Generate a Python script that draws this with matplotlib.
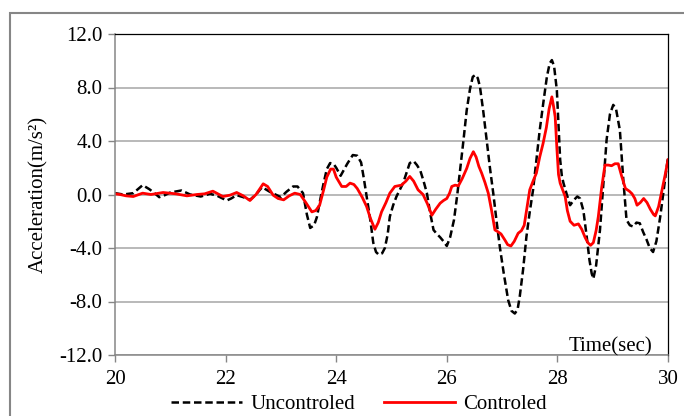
import matplotlib
matplotlib.use('Agg')
import matplotlib.pyplot as plt
from matplotlib.patches import Rectangle

plt.rcParams['font.family'] = ['Liberation Serif', 'DejaVu Serif']
plt.rcParams['axes.unicode_minus'] = False

# uncontrolled response
t_unc = [20.0, 20.15, 20.33, 20.5, 20.62, 20.7, 20.8, 20.9, 21.0, 21.2, 21.36, 21.55,
         21.72, 21.85, 22.02, 22.1, 22.2, 22.32, 22.44, 22.55, 22.66, 22.8, 22.9, 23.0,
         23.1, 23.22, 23.3, 23.4, 23.47, 23.53, 23.6, 23.65, 23.72, 23.77, 23.83, 23.89,
         23.95, 24.0, 24.08, 24.2, 24.3, 24.38, 24.45, 24.5, 24.55, 24.62, 24.67, 24.72,
         24.77, 24.83, 24.88, 24.93, 24.97, 25.03, 25.09, 25.15, 25.21, 25.27, 25.33, 25.4,
         25.46, 25.52, 25.58, 25.64, 25.7, 25.76, 25.82, 25.88, 25.94, 26.0, 26.06, 26.13,
         26.19, 26.24, 26.3, 26.36, 26.42, 26.47, 26.52, 26.56, 26.6, 26.66, 26.72, 26.78,
         26.84, 26.9, 26.96, 27.03, 27.11, 27.17, 27.23, 27.28, 27.32, 27.38, 27.44, 27.5,
         27.56, 27.62, 27.68, 27.75, 27.81, 27.86, 27.9, 27.94, 27.99, 28.02, 28.05, 28.08,
         28.11, 28.17, 28.23, 28.3, 28.36, 28.41, 28.47, 28.53, 28.58, 28.62, 28.65, 28.7,
         28.77, 28.83, 28.89, 28.95, 29.01, 29.06, 29.13, 29.19, 29.25, 29.31, 29.37, 29.43,
         29.49, 29.55, 29.61, 29.67, 29.73, 29.79, 29.86, 29.93, 30.0]
a_unc = [0.1, 0.0, 0.1, 0.7, 0.4, 0.15, -0.2, -0.05, 0.15, 0.3, 0.0, -0.15,
         0.05, -0.1, -0.45, -0.3, -0.05, -0.2, -0.4, 0.0, 0.55, 0.2, 0.0, -0.2,
         0.2, 0.6, 0.6, 0.1, -1.5, -2.5, -2.3, -1.7, -0.2, 0.8, 1.9, 2.35,
         2.3, 2.0, 1.4, 2.3, 2.95, 2.9, 2.4, 1.2, -0.15, -2.0, -3.6, -4.3,
         -4.5, -4.4, -4.0, -3.0, -1.65, -0.8, -0.15, 0.35, 0.85, 1.6, 2.35, 2.5,
         2.2, 1.8, 1.0, 0.1, -1.4, -2.65, -2.95, -3.2, -3.5, -3.85, -3.2, -1.9,
         0.0, 1.8, 4.0, 6.3, 7.9, 8.8, 8.95, 8.7, 8.05, 6.2, 4.1, 2.0,
         0.1, -2.0, -3.95, -5.9, -7.9, -8.7, -8.9, -8.6, -7.6, -5.6, -3.15, -1.3,
         0.35, 2.6, 4.8, 7.0, 8.8, 9.8, 10.05, 9.6, 7.8, 5.2, 2.6, 1.4,
         0.85, 0.0, -0.8, -0.4, -0.15, -0.3, -1.2, -3.15, -4.9, -5.9, -6.3, -5.3,
         -2.65, 0.7, 4.1, 6.0, 6.7, 6.4, 4.8, 1.2, -1.9, -2.3, -2.4, -2.1,
         -2.15, -2.8, -3.35, -4.0, -4.3, -3.5, -1.65, 0.6, 2.8]

# controlled response
t_con = [20.0, 20.09, 20.2, 20.33, 20.5, 20.65, 20.87, 21.1, 21.3, 21.48, 21.62, 21.77,
         21.95, 22.08, 22.2, 22.32, 22.44, 22.55, 22.68, 22.76, 22.86, 22.95, 23.05, 23.15,
         23.25, 23.35, 23.45, 23.56, 23.63, 23.7, 23.77, 23.83, 23.9, 23.95, 24.0, 24.1,
         24.18, 24.25, 24.32, 24.38, 24.47, 24.55, 24.62, 24.7, 24.76, 24.82, 24.9, 24.97,
         25.06, 25.12, 25.18, 25.26, 25.33, 25.4, 25.48, 25.57, 25.65, 25.73, 25.8, 25.88,
         25.94, 26.0, 26.05, 26.09, 26.15, 26.21, 26.28, 26.36, 26.42, 26.48, 26.53, 26.58,
         26.63, 26.69, 26.75, 26.81, 26.87, 26.93, 26.98, 27.05, 27.1, 27.16, 27.22, 27.29,
         27.35, 27.4, 27.45, 27.5, 27.56, 27.62, 27.68, 27.74, 27.8, 27.85, 27.9, 27.93,
         27.96, 27.99, 28.02, 28.05, 28.1, 28.14, 28.18, 28.23, 28.3, 28.38, 28.44, 28.5,
         28.55, 28.6, 28.65, 28.7, 28.74, 28.8, 28.86, 28.92, 28.98, 29.04, 29.1, 29.16,
         29.23, 29.3, 29.35, 29.4, 29.44, 29.5, 29.56, 29.62, 29.68, 29.74, 29.77, 29.83,
         29.89, 29.95, 30.0]
a_con = [0.05, 0.0, -0.1, -0.15, 0.1, 0.0, 0.15, 0.05, -0.1, 0.0, 0.05, 0.25,
         -0.15, -0.05, 0.15, -0.1, -0.45, 0.0, 0.8, 0.6, -0.05, -0.3, -0.4, -0.1,
         0.1, 0.0, -0.6, -1.3, -1.2, -0.8, 0.3, 1.3, 1.9, 1.9, 1.3, 0.6,
         0.6, 0.85, 0.75, 0.45, -0.2, -0.9, -1.8, -2.6, -2.1, -1.3, -0.6, 0.1,
         0.6, 0.65, 0.7, 1.0, 1.35, 1.0, 0.35, 0.0, -0.7, -1.55, -1.1, -0.65,
         -0.45, -0.3, 0.1, 0.6, 0.7, 0.65, 1.2, 1.95, 2.7, 3.2, 2.8, 2.1,
         1.6, 0.9, 0.1, -1.2, -2.65, -2.8, -2.95, -3.4, -3.75, -3.85, -3.5, -2.9,
         -2.7, -2.3, -1.0, 0.35, 1.0, 1.6, 2.8, 3.8, 5.0, 6.4, 7.3, 6.6,
         5.8, 3.5, 1.5, 0.85, 0.3, -0.15, -1.2, -2.0, -2.3, -2.2, -2.6, -3.2,
         -3.6, -3.8, -3.6, -2.7, -1.65, 0.5, 2.2, 2.2, 2.15, 2.3, 2.3, 1.4,
         0.45, 0.25, 0.05, -0.3, -0.8, -0.6, -0.3, -0.6, -1.1, -1.5, -1.6, -0.9,
         0.3, 1.5, 2.6]

xticks = [20, 22, 24, 26, 28, 30]
yticks = [-12, -8, -4, 0, 4, 8, 12]

fig = plt.figure(figsize=(6.84, 4.16), dpi=100)
ax = fig.add_axes([115/684, 1-355/416, (668-115)/684, (355-34)/416])

ax.plot(t_unc, a_unc, color='black', lw=1.8, linestyle=(0, (3.0, 1.5)), label='Uncontroled',
        dash_joinstyle='round')
ax.plot(t_con, a_con, color='#ff0000', lw=2.0, label='Controled', solid_joinstyle='round')

ax.set_xlim(20, 30)
ax.set_ylim(-12, 12)
ax.set_xticks(xticks)
ax.set_yticks(yticks)
ax.set_yticklabels(['%.1f' % v for v in yticks])
ax.yaxis.grid(True, color='#a6a6a6', lw=1.1)
ax.set_axisbelow(True)
ax.tick_params(labelsize=15, length=5, width=1, color='#868686', pad=4)
ax.tick_params(axis='x', pad=6)
for s in ['left', 'bottom']:
    ax.spines[s].set_color('#868686')
    ax.spines[s].set_linewidth(1.1)
for s in ['top', 'right']:
    ax.spines[s].set_color('black')
    ax.spines[s].set_linewidth(0.9)

ax.set_ylabel('Acceleration(m/s²)', fontsize=15, labelpad=8)
ax.text(29.72, -11.75, 'Time(sec)', fontsize=15, ha='right', va='baseline')

fig.legend(loc='center', bbox_to_anchor=(0.525, 1-404/416), ncol=2, frameon=False,
           fontsize=15, handlelength=3.4, handletextpad=0.4, columnspacing=1.4,
           borderpad=0, borderaxespad=0)

fig.patches.append(Rectangle((10/684, -0.5), 2, 1-13/416+0.5, transform=fig.transFigure,
                             fill=False, edgecolor='#868686', lw=1.5, clip_on=False))

fig.savefig('out.png', dpi=100)
